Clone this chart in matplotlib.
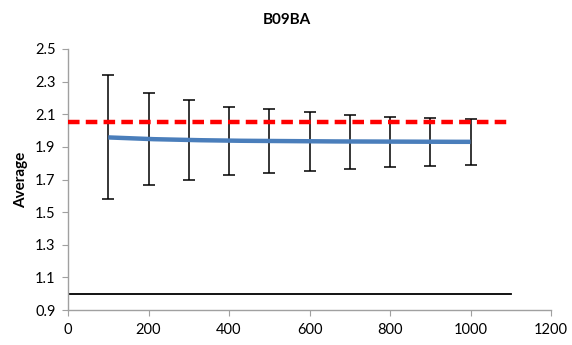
"""B09BA average vs iterations with error bars."""
import matplotlib
matplotlib.use("Agg")
import matplotlib.pyplot as plt
import numpy as np

x_vals = [100, 200, 300, 400, 500, 600, 700, 800, 900, 1000]
means = [1.958, 1.948, 1.942, 1.938, 1.936, 1.934, 1.933, 1.932, 1.931, 1.931]
upper = [2.343, 2.232, 2.187, 2.146, 2.130, 2.112, 2.093, 2.085, 2.077, 2.072]
lower = [1.578, 1.664, 1.695, 1.726, 1.740, 1.752, 1.767, 1.777, 1.783, 1.789]
ref_x = [0, 1100]
ref_red = [2.05, 2.05]
ref_black = [1.0, 1.0]

y_ticks = [0.9, 1.1, 1.3, 1.5, 1.7, 1.9, 2.1, 2.3, 2.5]
x_ticks = [0, 200, 400, 600, 800, 1000, 1200]

plt.rcParams["font.family"] = ["Lato", "DejaVu Sans"]

fig = plt.figure(figsize=(5.72, 3.45), dpi=100)
ax = fig.add_axes([68 / 572, 1 - 310 / 345, (551 - 68) / 572, (310 - 49) / 345])

x = np.asarray(x_vals, dtype=float)
m = np.asarray(means)
# smooth line like the spreadsheet curve
xs = np.linspace(x[0], x[-1], 200)
ys = np.interp(xs, x, m)
ax.plot(ref_x, ref_black, color="black", lw=1.3, zorder=2)
ax.errorbar(x, m, yerr=[m - np.asarray(lower), np.asarray(upper) - m], fmt="none",
            ecolor="black", elinewidth=1.1, capsize=4, capthick=1.1, zorder=3)
ax.plot(xs, ys, color="#4a7ebb", lw=3.2, solid_capstyle="butt", zorder=4)
ax.plot(ref_x, ref_red, color="#ff0000", lw=3.2, ls=(0, (2.6, 1.4)), zorder=5)

ax.set_xlim(0, 1200)
ax.set_ylim(0.9, 2.5)
ax.set_xticks(x_ticks)
ax.set_yticks(y_ticks)
ax.set_yticklabels([f"{v:.1f}" for v in y_ticks])
ax.tick_params(axis="both", direction="out", length=4, color="#a0a0a0", labelsize=10.5, pad=5)
for side in ("top", "right"):
    ax.spines[side].set_visible(False)
for side in ("left", "bottom"):
    ax.spines[side].set_color("#a0a0a0")
    ax.spines[side].set_linewidth(1.0)

ax.set_ylabel("Average", fontsize=11, fontweight="bold", labelpad=5)
fig.text(287 / 572, 1 - 20 / 345, "B09BA", ha="center", va="center", fontsize=11, fontweight="bold")

fig.savefig("out.png", dpi=100)
